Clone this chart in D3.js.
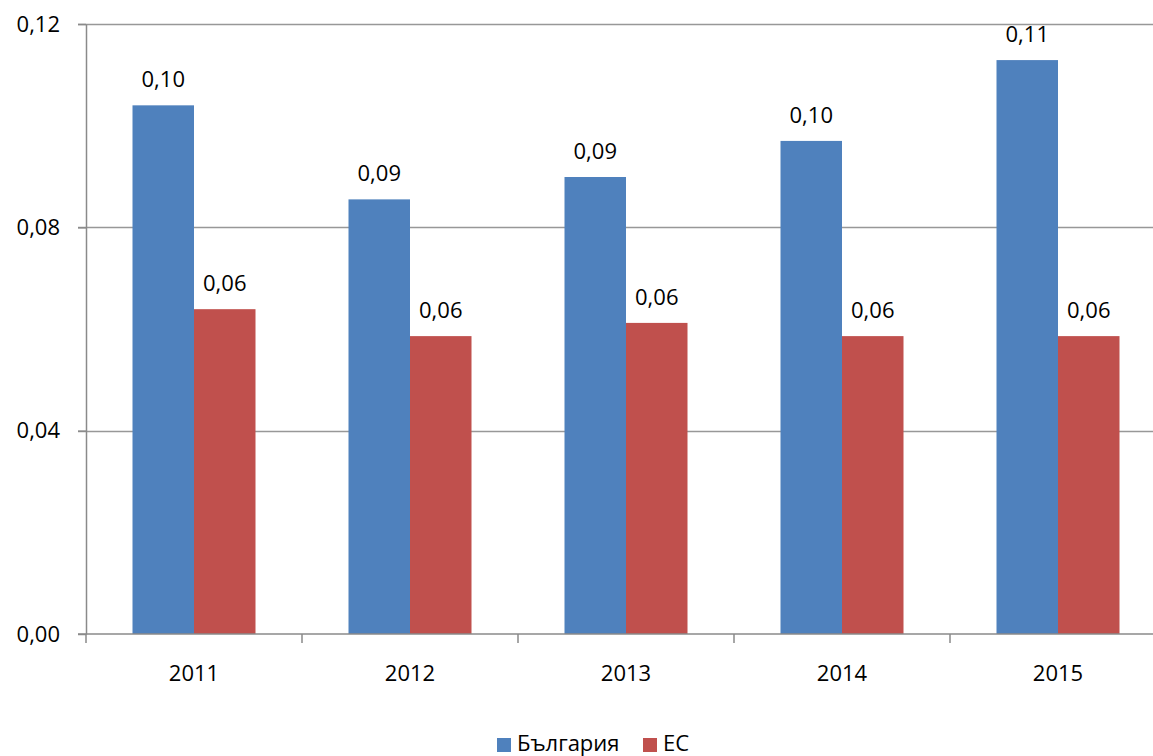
<!DOCTYPE html>
<html>
<head>
<meta charset="utf-8">
<script src="https://cdn.jsdelivr.net/npm/d3@7"></script>
<style>
  body { margin: 0; background: #fff; }
  svg { font-family: "Open Sans", sans-serif; display: block; }
</style>
</head>
<body>
<div class="svg-container"></div>
<script>
// chart values
const years = ["2011", "2012", "2013", "2014", "2015"];
const seriesNames = ["България", "ЕС"];
const bulgaria = [0.104, 0.0855, 0.0899, 0.097, 0.1129];
const eu = [0.0639, 0.0586, 0.0612, 0.0586, 0.0586];
const yTicks = [0, 0.04, 0.08, 0.12];
const colors = ["#4f81bd", "#c0504d"];

const width = 1153, height = 756;
const margin = {top: 24, left: 86, bottom: 122};
const plotRight = 1166; // plot runs slightly past the picture edge
const fontSize = "22px";

const svg = d3.select(".svg-container").append("svg")
  .attr("width", width)
  .attr("height", height);

const fmt = v => d3.format(".2f")(v).replace(".", ",");

const x0 = d3.scaleBand().domain(years).range([margin.left, plotRight]).padding(0);
const x1 = d3.scaleBand().domain(seriesNames).range([-61.5, 61.5]).padding(0);
const y = d3.scaleLinear().domain([0, 0.12]).range([height - margin.bottom, margin.top]);

// gridlines
svg.append("g")
  .selectAll("line")
  .data(yTicks.filter(d => d > 0))
  .join("line")
  .attr("x1", margin.left - 8)
  .attr("x2", plotRight)
  .attr("y1", d => Math.round(y(d)) + 0.5)
  .attr("y2", d => Math.round(y(d)) + 0.5)
  .style("stroke", "#989898")
  .style("stroke-width", 1.5);

// bars
const rows = years.map((yr, i) => ({year: yr, vals: [bulgaria[i], eu[i]]}));
const groups = svg.append("g")
  .selectAll("g")
  .data(rows)
  .join("g")
  .attr("transform", d => `translate(${x0(d.year) + x0.bandwidth() / 2},0)`);

groups.selectAll("rect")
  .data(d => d.vals.map((v, j) => ({name: seriesNames[j], v: v, j: j})))
  .join("rect")
  .attr("x", d => x1(d.name))
  .attr("width", x1.bandwidth())
  .attr("y", d => y(d.v))
  .attr("height", d => y(0) - y(d.v))
  .style("fill", d => colors[d.j]);

groups.selectAll("text")
  .data(d => d.vals.map((v, j) => ({name: seriesNames[j], v: v})))
  .join("text")
  .attr("x", d => x1(d.name) + x1.bandwidth() / 2)
  .attr("y", d => y(d.v) - 18)
  .attr("text-anchor", "middle")
  .style("font-size", fontSize)
  .style("fill", "#000")
  .text(d => fmt(d.v));

// y axis
const yAxis = d3.axisLeft(y).tickValues(yTicks).tickFormat(fmt).tickSize(8).tickSizeOuter(0).tickPadding(18);
const yg = svg.append("g")
  .attr("transform", `translate(${margin.left},0)`)
  .call(yAxis);
yg.select(".domain").style("stroke", "#8a8a8a").style("stroke-width", 1.5);
yg.selectAll(".tick line").style("stroke", "#8a8a8a").style("stroke-width", 1.5);
yg.selectAll(".tick text").style("font-size", fontSize).style("font-family", "Open Sans").style("fill", "#000");

// x axis
const xg = svg.append("g")
  .attr("transform", `translate(0,${y(0)})`)
  .call(d3.axisBottom(x0).tickSize(0).tickPadding(31));
xg.select(".domain").remove();
xg.append("line")
  .attr("x1", margin.left - 8).attr("x2", plotRight)
  .style("stroke", "#8a8a8a").style("stroke-width", 1.5);
xg.selectAll(".tick text").style("font-size", fontSize).style("font-family", "Open Sans").style("fill", "#000");
xg.selectAll(".sep")
  .data(years.concat(["end"]))
  .join("line")
  .attr("class", "sep")
  .attr("x1", (d, i) => margin.left + i * x0.step())
  .attr("x2", (d, i) => margin.left + i * x0.step())
  .attr("y1", 0).attr("y2", 9)
  .style("stroke", "#8a8a8a").style("stroke-width", 1.5);

// legend
const legendItems = [{name: seriesNames[0], x: 497}, {name: seriesNames[1], x: 643}];
const lg = svg.append("g").attr("transform", "translate(0,737)");
lg.selectAll("rect")
  .data(legendItems)
  .join("rect")
  .attr("x", d => d.x)
  .attr("y", 1)
  .attr("width", 14).attr("height", 14)
  .style("fill", (d, i) => colors[i]);
lg.selectAll("text")
  .data(legendItems)
  .join("text")
  .attr("x", d => d.x + 20)
  .attr("y", 14)
  .style("font-size", fontSize)
  .text(d => d.name);
</script>
</body>
</html>
